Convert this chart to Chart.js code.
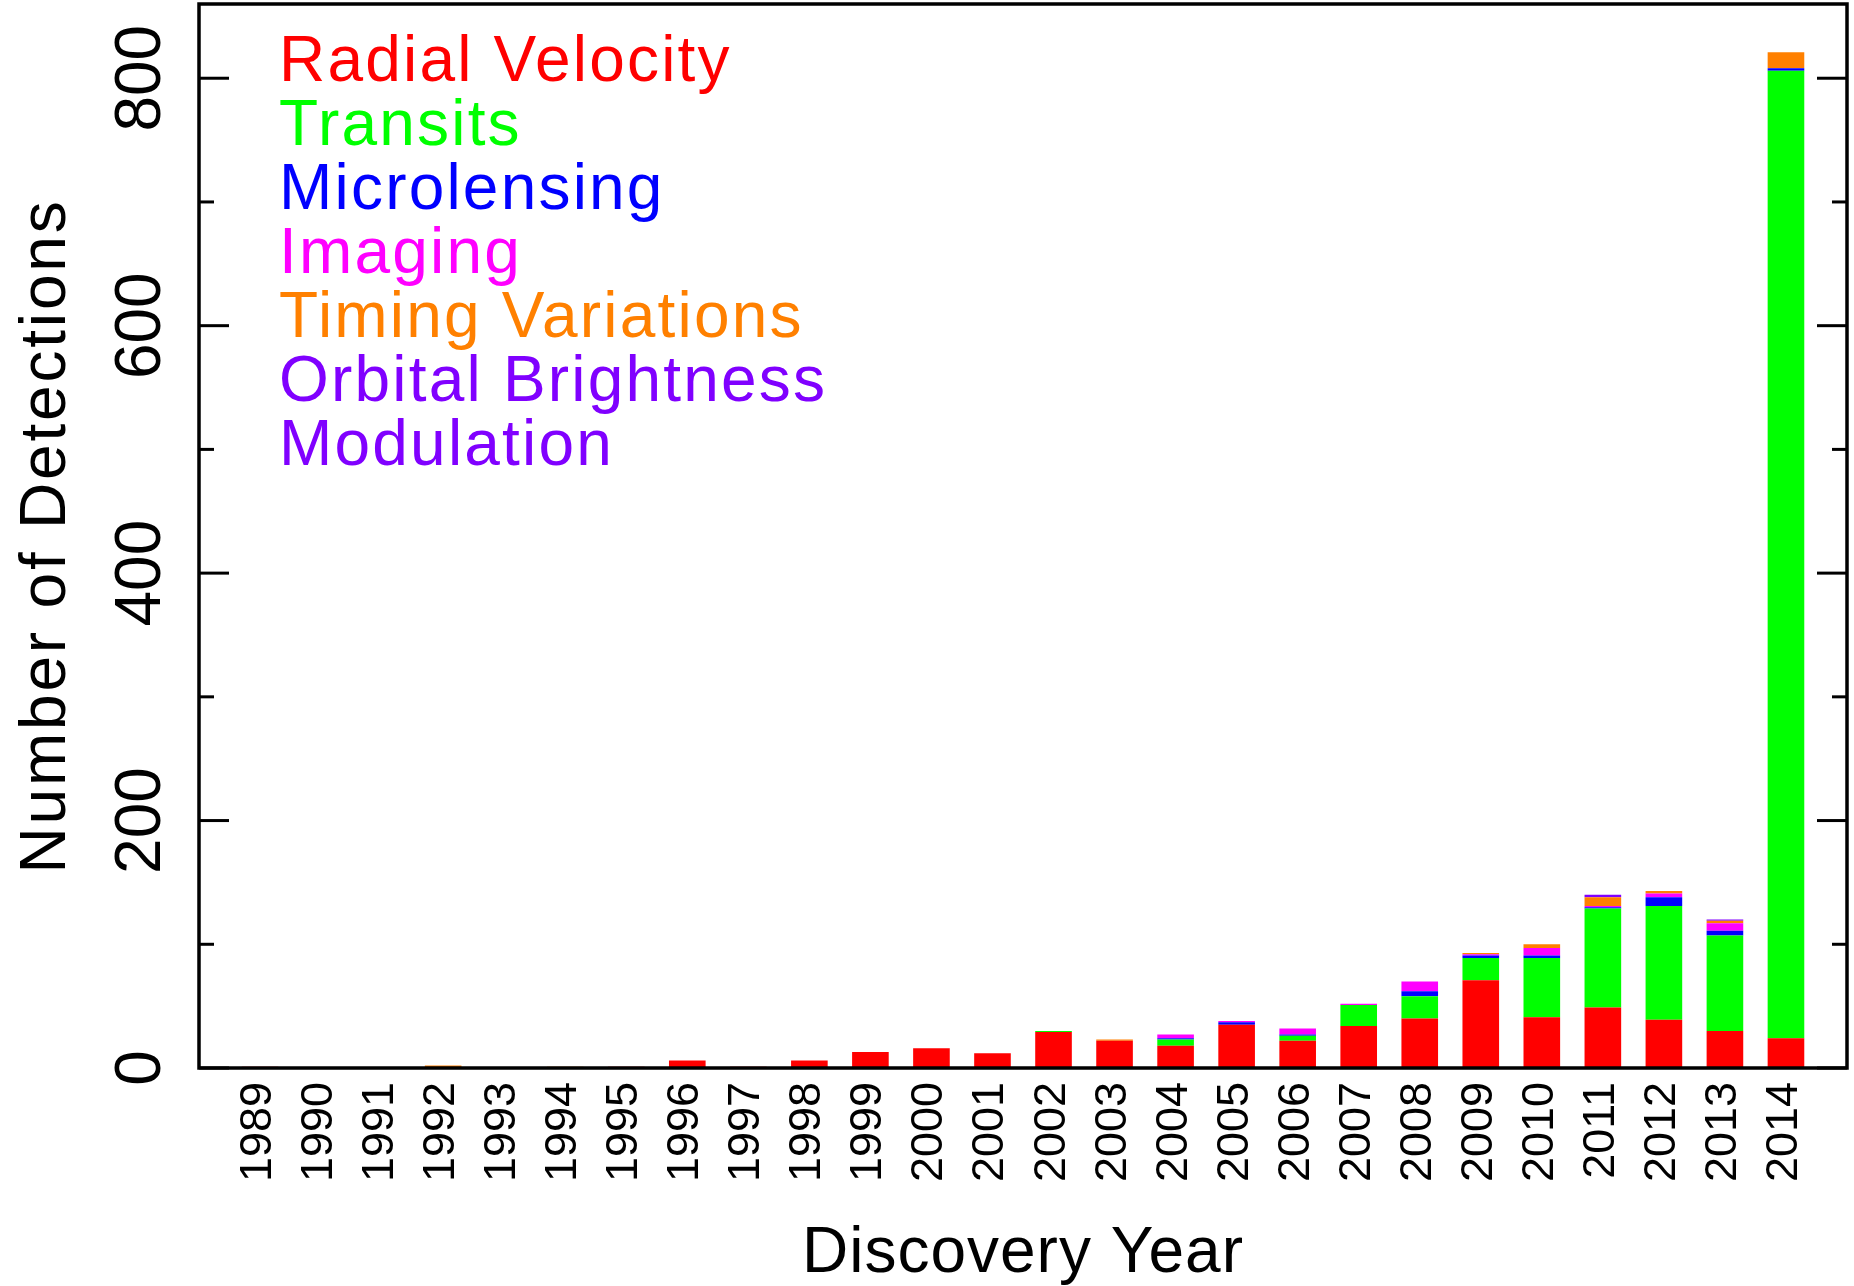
<!DOCTYPE html>
<html>
<head>
<meta charset="utf-8">
<title>Exoplanet detections per year</title>
<script src="https://cdn.jsdelivr.net/npm/chart.js@4/dist/chart.umd.min.js"></script>
<style>
  html, body { margin: 0; padding: 0; background: #fff; }
  #wrap { width: 1854px; height: 1286px; position: relative; }
</style>
</head>
<body>
<div id="wrap"><canvas id="myChart"></canvas></div>
<script>
const years = [1989, 1990, 1991, 1992, 1993, 1994, 1995, 1996, 1997, 1998, 1999, 2000, 2001,
  2002, 2003, 2004, 2005, 2006, 2007, 2008, 2009, 2010, 2011, 2012, 2013, 2014];

const radialVelocity = [1, 0, 0, 0, 0, 0, 1, 6, 1, 6, 13, 16, 12, 29, 22, 18, 35, 22, 34, 40, 71, 41, 49, 39, 30, 24];
const transits =       [0, 0, 0, 0, 0, 0, 0, 0, 0, 0, 0, 0, 0, 1, 0, 5, 0, 4, 17, 18, 18, 48, 80, 92, 77, 782];
const microlensing =   [0, 0, 0, 0, 0, 0, 0, 0, 0, 0, 0, 0, 0, 0, 0, 1, 2, 1, 0, 4, 2, 2, 1, 7, 4, 2];
const imaging =        [0, 0, 0, 0, 0, 0, 0, 0, 0, 0, 0, 0, 0, 0, 0, 3, 1, 5, 1, 8, 1, 6, 1, 3, 6, 0];
const timing =         [0, 0, 0, 2, 0, 1, 0, 0, 0, 0, 0, 0, 0, 0, 1, 0, 0, 0, 0, 0, 1, 3, 7, 2, 2, 13];
const orbitalBright =  [0, 0, 0, 0, 0, 0, 0, 0, 0, 0, 0, 0, 0, 0, 0, 0, 0, 0, 0, 0, 0, 0, 2, 0, 1, 0];

const methods = ["Radial Velocity", "Transits", "Microlensing", "Imaging",
  "Timing Variations", "Orbital Brightness Modulation"];
const series = [radialVelocity, transits, microlensing, imaging, timing, orbitalBright];
const colors = ["#ff0000", "#00ff00", "#0000ff", "#ff00ff", "#ff8000", "#8000ff"];

const yMajorTicks = [0, 200, 400, 600, 800];
const yMinorTicks = [100, 300, 500, 700];

const FONT = '"Liberation Sans", Arial, sans-serif';

let ctx = null;
let chart = null;

// split long legend entries on word boundaries
const wrapLabel = (text, maxChars) => {
  const lines = [];
  let cur = "";
  text.split(" ").forEach((w) => {
    if (cur && (cur + " " + w).length > maxChars) {
      lines.push(cur);
      cur = w;
    } else {
      cur = cur ? cur + " " + w : w;
    }
  });
  if (cur) lines.push(cur);
  return lines;
};

const line = (c, x1, y1, x2, y2) => {
  c.beginPath();
  c.moveTo(x1, y1);
  c.lineTo(x2, y2);
  c.stroke();
};

// box, inward ticks, tick labels, titles and the coloured legend
const framePlugin = {
  id: "frame",
  afterDatasetsDraw(ch) {
    const c = ch.ctx;
    const a = ch.chartArea;
    const xs = ch.scales.x;
    const ys = ch.scales.y;
    c.save();
    c.strokeStyle = "#000";
    c.lineWidth = 3.5;
    c.strokeRect(a.left, a.top, a.right - a.left, a.bottom - a.top);

    c.lineWidth = 3;
    yMajorTicks.forEach((v) => {
      const py = ys.getPixelForValue(v);
      line(c, a.left, py, a.left + 30, py);
      line(c, a.right - 30, py, a.right, py);
    });
    yMinorTicks.forEach((v) => {
      const py = ys.getPixelForValue(v);
      line(c, a.left, py, a.left + 15, py);
      line(c, a.right - 15, py, a.right, py);
    });

    c.fillStyle = "#000";
    c.textBaseline = "alphabetic";

    // y tick labels, rotated
    c.font = "64px " + FONT;
    c.textAlign = "center";
    yMajorTicks.forEach((v) => {
      c.save();
      c.translate(a.left - 39, ys.getPixelForValue(v));
      c.rotate(-Math.PI / 2);
      c.fillText(String(v), 0, 0);
      c.restore();
    });

    // year labels, rotated
    c.font = "45px " + FONT;
    c.textAlign = "right";
    years.forEach((yr) => {
      c.save();
      c.translate(xs.getPixelForValue(yr) + 11, a.bottom + 14);
      c.rotate(-Math.PI / 2);
      c.fillText(String(yr), 0, 0);
      c.restore();
    });

    // axis titles
    c.font = "64px " + FONT;
    c.textAlign = "center";
    c.letterSpacing = "1px";
    c.fillText("Discovery Year", (a.left + a.right) / 2, 1272);
    c.save();
    c.translate(65, (a.top + a.bottom) / 2);
    c.rotate(-Math.PI / 2);
    c.letterSpacing = "2.8px";
    c.fillText("Number of Detections", 0, 0);
    c.restore();

    // legend
    c.textAlign = "left";
    c.letterSpacing = "2.2px";
    let row = 0;
    methods.forEach((m, k) => {
      c.fillStyle = colors[k];
      wrapLabel(m, 18).forEach((txt) => {
        c.fillText(txt, 279, 81 + row * 64);
        row++;
      });
    });
    c.restore();
  },
};

const init = () => {
  ctx = document.getElementById("myChart").getContext("2d");

  const datasets = methods.map((m, k) => ({
    label: m,
    data: years.map((yr, i) => ({ x: yr, y: series[k][i] })),
    backgroundColor: colors[k],
    borderWidth: 0,
    barPercentage: 0.6,
    categoryPercentage: 1,
  }));

  chart = new Chart(ctx, {
    type: "bar",
    data: { datasets },
    options: {
      responsive: true,
      maintainAspectRatio: false,
      animation: false,
      layout: { padding: { left: 199, top: 4, right: 7, bottom: 218 } },
      plugins: { legend: { display: false }, tooltip: { enabled: false } },
      scales: {
        x: {
          type: "linear", min: 1988, max: 2015, stacked: true, offset: false,
          display: false, grid: { offset: false },
        },
        y: { type: "linear", min: 0, max: 860, stacked: true, display: false },
      },
    },
    plugins: [framePlugin],
  });
};

window.addEventListener("load", init);
</script>
</body>
</html>
